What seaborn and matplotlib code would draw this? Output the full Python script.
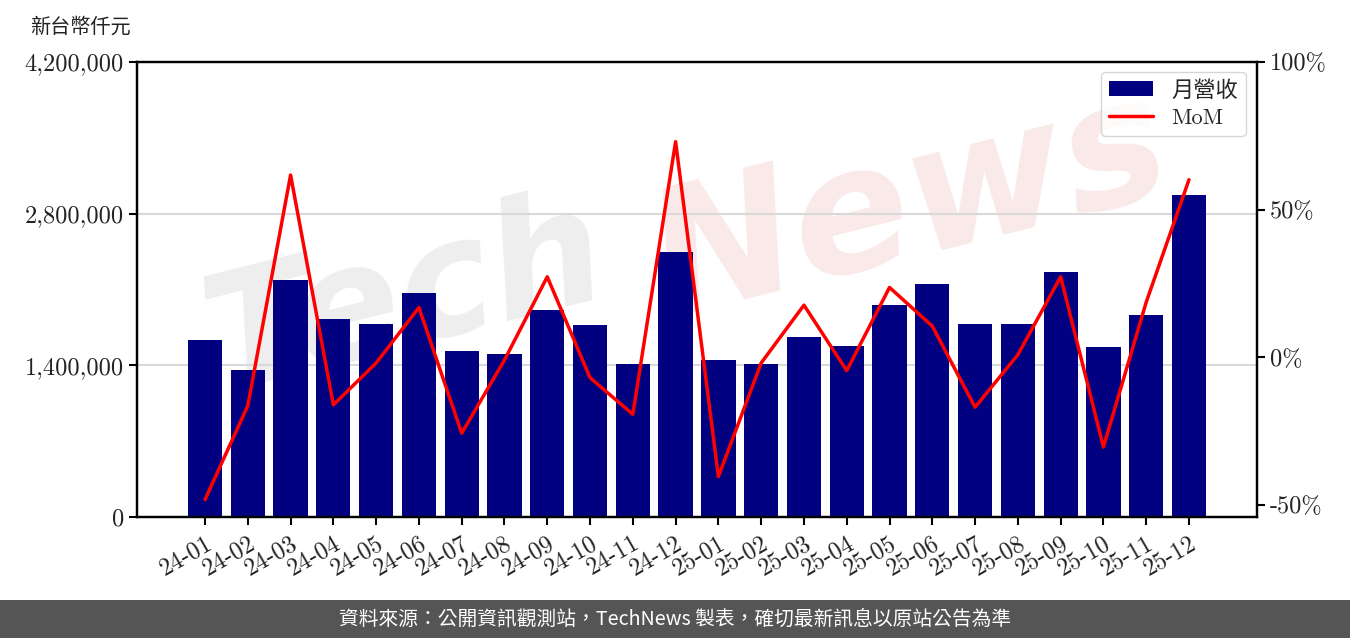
import matplotlib
matplotlib.use("Agg")
import matplotlib.pyplot as plt
import seaborn as sns
import numpy as np
import pandas as pd
from matplotlib.patches import Patch
from matplotlib.lines import Line2D
from matplotlib.ticker import FuncFormatter

months = ["24-01", "24-02", "24-03", "24-04", "24-05", "24-06", "24-07", "24-08",
          "24-09", "24-10", "24-11", "24-12", "25-01", "25-02", "25-03", "25-04",
          "25-05", "25-06", "25-07", "25-08", "25-09", "25-10", "25-11", "25-12"]
revenue = [1634000, 1357000, 2188000, 1828000, 1782000, 2068000, 1532000, 1505000,
           1911000, 1772000, 1412000, 2446000, 1449000, 1412000, 1662000, 1578000,
           1957000, 2151000, 1782000, 1782000, 2262000, 1569000, 1865000, 2972000]
mom = [-0.483, -0.165, 0.617, -0.162, -0.020, 0.168, -0.258, -0.010,
       0.272, -0.070, -0.194, 0.730, -0.405, -0.020, 0.176, -0.046,
       0.236, 0.105, -0.170, 0.008, 0.272, -0.305, 0.186, 0.601]
left_ticks = [0, 1400000, 2800000, 4200000]
right_ticks = [-0.5, 0.0, 0.5, 1.0]
ylabel_text = "新台幣仟元"
legend_labels = ["月營收", "MoM"]
footer_text = "資料來源：公開資訊觀測站，TechNews 製表，確切最新訊息以原站公告為準"

sns.set_theme(style="white")
plt.rcParams["font.family"] = ["cmr10", "Noto Sans CJK TC", "DejaVu Sans"]
plt.rcParams["axes.unicode_minus"] = False
plt.rcParams["axes.formatter.use_mathtext"] = True

df = pd.DataFrame({"month": months, "revenue": revenue, "mom": mom})
df["pos"] = np.arange(len(df))

fig = plt.figure(figsize=(13.5, 6.38), dpi=100)
ax = fig.add_axes([137/1350, 1-517/638, (1257-137)/1350, (517-62)/638])

# watermark
ax.text(0.24, 0.48, "Tech", transform=ax.transAxes, fontsize=115, color="#eeeeee",
        family="DejaVu Sans", weight="bold", style="italic", rotation=14,
        ha="center", va="center", zorder=0.5)
ax.text(0.69, 0.68, "News", transform=ax.transAxes, fontsize=125, color="#fae9e9",
        family="DejaVu Sans", weight="bold", style="italic", rotation=14,
        ha="center", va="center", zorder=0.5)

sns.barplot(data=df, x="pos", y="revenue", color="#000080", saturation=1,
            width=0.8, ax=ax, zorder=2, native_scale=True, linewidth=0)
ax.set_xlim(-1.59, 24.59)
ax.set_ylim(0, 4200000)
ax.set_yticks(left_ticks)
ax.yaxis.set_major_formatter(FuncFormatter(lambda v, p: f"{int(v):,}"))
ax.set_xticks(df["pos"])
ax.set_xticklabels(months, rotation=30, ha="right", rotation_mode="anchor")
ax.set_xlabel("")
ax.set_ylabel("")
ax.grid(axis="y", color="#d9d9d9", linewidth=1.5, zorder=1)
ax.set_axisbelow(True)
for s in ax.spines.values():
    s.set_color("black")
    s.set_linewidth(1.6)
ax.tick_params(axis="both", which="major", direction="out", length=6, width=1.5,
               color="black", labelsize=17.5, labelcolor="#222222", left=True, bottom=True)
ax.tick_params(axis="x", pad=5)

ax2 = ax.twinx()
sns.lineplot(data=df, x="pos", y="mom", color="#ff0000", linewidth=2.5, ax=ax2, zorder=3)
ax2.set_ylim(-0.542, 1.0)
ax2.set_yticks(right_ticks)
ax2.yaxis.set_major_formatter(FuncFormatter(lambda v, p: f"{int(round(v*100))}%"))
ax2.set_xlim(-1.59, 24.59)
ax2.set_ylabel("")
ax2.set_xlabel("")
ax2.grid(False)
for s in ax2.spines.values():
    s.set_color("black")
    s.set_linewidth(1.6)
ax2.tick_params(axis="y", direction="out", length=6, width=1.5, color="black",
                labelsize=17.5, labelcolor="#222222", right=True)

handles = [Patch(facecolor="#000080", edgecolor="none"),
           Line2D([0], [0], color="#ff0000", linewidth=2.5)]
leg = ax2.legend(handles, legend_labels, loc="upper right", fontsize=16,
                 frameon=True, fancybox=True, framealpha=0.8, edgecolor="#cccccc",
                 bbox_to_anchor=(0.990, 0.978), borderaxespad=0,
                 handlelength=2.0, borderpad=0.35, labelspacing=0.35)

fig.text(30/1350, 1-27/638, ylabel_text, fontsize=14.5, color="#222222",
         family=["Noto Sans CJK TC", "DejaVu Sans"], ha="left", va="center")

# footer band
fig.patches.append(plt.Rectangle((0, 0), 1, 38/638, transform=fig.transFigure,
                                 facecolor="#555555", edgecolor="none", zorder=0))
fig.text(0.5, 19/638, footer_text, fontsize=14.2, color="white",
         family=["Noto Sans CJK TC", "DejaVu Sans"], ha="center", va="center")

fig.savefig("out.png", dpi=100)
